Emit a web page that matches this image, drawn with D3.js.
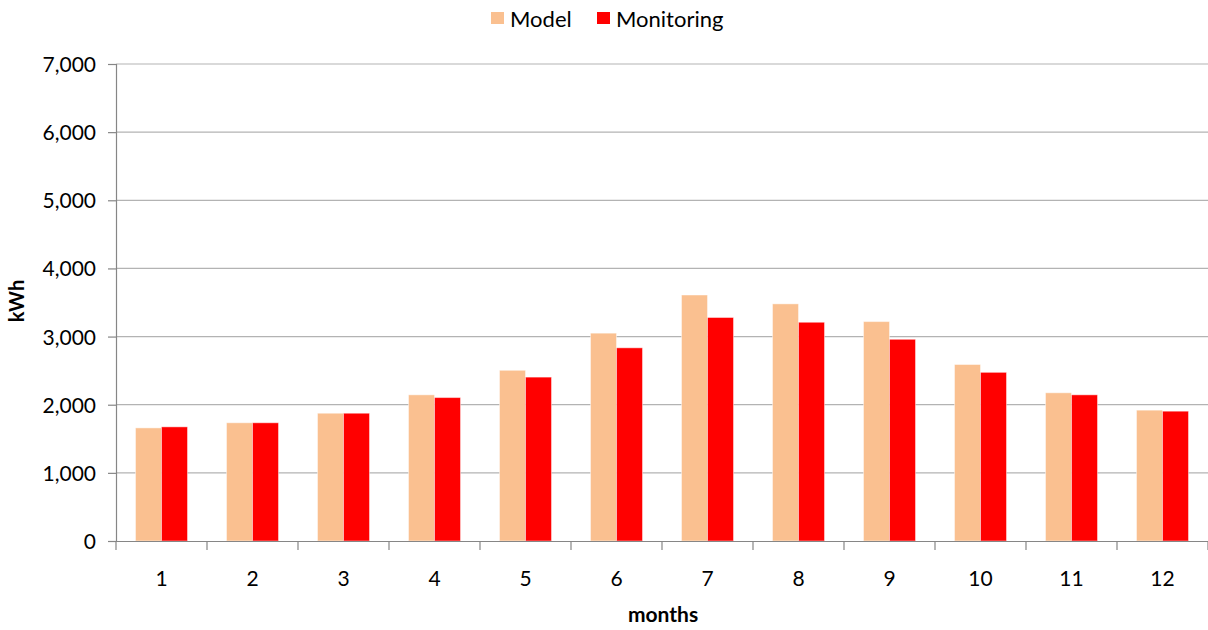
<!DOCTYPE html>
<html>
<head>
<meta charset="utf-8">
<script src="https://cdn.jsdelivr.net/npm/d3@7/dist/d3.min.js"></script>
<style>
  html, body { margin: 0; padding: 0; background: #fff; }
  svg text { font-family: Lato, "Open Sans", "Liberation Sans", sans-serif; fill: #000; }
</style>
</head>
<body>
<svg id="chart" width="1208" height="630"></svg>
<script>
// Monthly energy, kWh
const months = ["1", "2", "3", "4", "5", "6", "7", "8", "9", "10", "11", "12"];
const seriesNames = ["Model", "Monitoring"];
const modelValues = [1660, 1735, 1875, 2145, 2505, 3050, 3610, 3480, 3220, 2590, 2175, 1920];
const monitoringValues = [1675, 1735, 1875, 2105, 2405, 2835, 3280, 3210, 2960, 2475, 2145, 1905];
const yTicks = [0, 1000, 2000, 3000, 4000, 5000, 6000, 7000];
const colors = { Model: "#FAC090", Monitoring: "#FF0000" };

const rows = months.map((m, i) => ({ month: m, Model: modelValues[i], Monitoring: monitoringValues[i] }));

const svg = d3.select("#chart");
const margin = { left: 116, right: 0, top: 64, bottom: 89 };
const width = 1208, height = 630;

const x = d3.scaleBand().domain(months).range([margin.left, width - margin.right]).paddingInner(0).paddingOuter(0);
const xSub = d3.scaleBand().domain(seriesNames).range([0, x.bandwidth()]).paddingInner(0).paddingOuter(0.75);
const y = d3.scaleLinear().domain([0, 7000]).range([height - margin.bottom, margin.top]);

// horizontal gridlines
svg.append("g")
  .selectAll("line")
  .data(yTicks.filter(t => t > 0))
  .join("line")
  .attr("x1", margin.left).attr("x2", width - margin.right)
  .attr("y1", d => y(d)).attr("y2", d => y(d))
  .attr("stroke", "#b3b3b3").attr("stroke-width", 1.2);

// bars
svg.append("g")
  .selectAll("g")
  .data(rows)
  .join("g")
  .attr("transform", d => `translate(${x(d.month)},0)`)
  .selectAll("rect")
  .data(d => seriesNames.map(s => ({ key: s, value: d[s] })))
  .join("rect")
  .attr("x", d => xSub(d.key))
  .attr("width", xSub.bandwidth())
  .attr("y", d => y(d.value))
  .attr("height", d => y(0) - y(d.value))
  .attr("fill", d => colors[d.key])
  .attr("stroke", "#fff").attr("stroke-opacity", 0.45).attr("stroke-width", 1);

// y axis
const yAxis = d3.axisLeft(y).tickValues(yTicks).tickSize(8).tickPadding(12)
  .tickFormat(d3.format(","));
const gy = svg.append("g").attr("transform", `translate(${margin.left},0)`).call(yAxis);
gy.select(".domain").attr("stroke", "#868686").attr("stroke-width", 1.2);
gy.selectAll(".tick line").attr("stroke", "#868686").attr("stroke-width", 1.2);
gy.selectAll(".tick text").style("font-size", "21px").attr("dy", "0.36em");

// x axis
const xAxis = d3.axisBottom(x).tickSize(0).tickPadding(30);
const gx = svg.append("g").attr("transform", `translate(0,${y(0)})`).call(xAxis);
gx.select(".domain").attr("stroke", "#868686").attr("stroke-width", 1.2);
gx.selectAll(".tick text").style("font-size", "21px");
// category separators below the baseline
gx.append("g")
  .selectAll("line")
  .data(months.map(m => x(m)).concat([x(months[months.length - 1]) + x.bandwidth()]))
  .join("line")
  .attr("x1", d => d).attr("x2", d => d)
  .attr("y1", 0).attr("y2", 9)
  .attr("stroke", "#868686").attr("stroke-width", 1.2);

// axis titles
svg.append("text")
  .attr("x", 663).attr("y", 622)
  .attr("text-anchor", "middle")
  .style("font-size", "21px").style("font-weight", "bold")
  .text("months");

svg.append("text")
  .attr("transform", "translate(24,301) rotate(-90)")
  .attr("text-anchor", "middle")
  .style("font-size", "20px").style("font-weight", "bold")
  .text("kWh");

// legend
const legendItems = [
  { key: "Model", sx: 491, tx: 510 },
  { key: "Monitoring", sx: 597, tx: 616 }
];
const lg = svg.append("g");
lg.selectAll("rect")
  .data(legendItems)
  .join("rect")
  .attr("x", d => d.sx).attr("y", 12)
  .attr("width", 13).attr("height", 12)
  .attr("fill", d => colors[d.key]);
lg.selectAll("text")
  .data(legendItems)
  .join("text")
  .attr("x", d => d.tx).attr("y", 26.5)
  .style("font-size", "22px")
  .text(d => d.key);
</script>
</body>
</html>
